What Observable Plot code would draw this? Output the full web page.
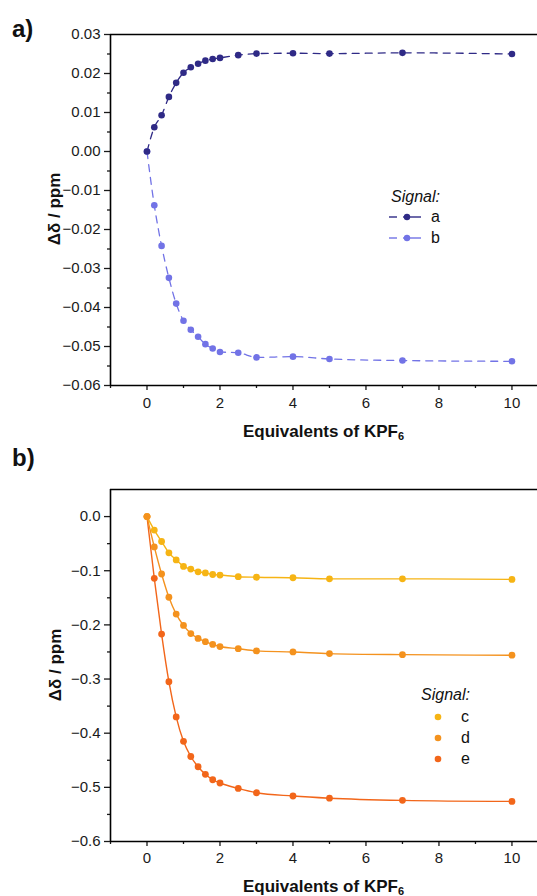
<!DOCTYPE html>
<html>
<head>
<meta charset="utf-8">
<script src="https://cdn.jsdelivr.net/npm/d3@7"></script>
<script src="https://cdn.jsdelivr.net/npm/@observablehq/plot@0.6"></script>
<style>
  html, body { margin: 0; padding: 0; background: #fff; }
  body { font-family: "Liberation Sans", Arial, sans-serif; color: #111; }
  #wrap { position: relative; width: 537px; height: 896px; overflow: hidden; }
  .panel { position: absolute; left: 0; }
  .plab { position: absolute; font-weight: bold; font-size: 24px; line-height: 1; }
  .xt { position: absolute; left: 110px; width: 427px; text-align: center; font-weight: bold; font-size: 17px; line-height: 1; }
  .xt sub { font-size: 11px; vertical-align: -3px; }
  .yt { position: absolute; width: 200px; text-align: center; font-weight: bold; font-size: 17px; line-height: 1; transform: translate(-50%, -50%) rotate(-90deg); }
  .leg { position: absolute; font-size: 16px; line-height: 1; color: #111; }
  .leg.ttl { font-style: italic; }
</style>
</head>
<body>
<div id="wrap"></div>
<script>
// ---------- data ----------
const equiv = [0, 0.2, 0.4, 0.6, 0.8, 1.0, 1.2, 1.4, 1.6, 1.8, 2.0, 2.5, 3, 4, 5, 7, 10];

// panel a (dashed)
const signalA = [0, 0.0062, 0.0093, 0.0140, 0.0176, 0.0202, 0.0216, 0.0225, 0.0233, 0.0237, 0.0240, 0.0247, 0.0251, 0.0252, 0.0251, 0.0253, 0.0250];
const signalB = [0, -0.0138, -0.0242, -0.0324, -0.0390, -0.0434, -0.0457, -0.0475, -0.0494, -0.0505, -0.0514, -0.0516, -0.0528, -0.0526, -0.0532, -0.0536, -0.0538];

// panel b (solid)
const signalC = [0, -0.025, -0.046, -0.067, -0.080, -0.092, -0.097, -0.102, -0.104, -0.107, -0.108, -0.111, -0.112, -0.113, -0.115, -0.115, -0.116];
const signalD = [0, -0.056, -0.106, -0.149, -0.180, -0.201, -0.216, -0.225, -0.231, -0.236, -0.240, -0.244, -0.248, -0.250, -0.253, -0.255, -0.256];
const signalE = [0, -0.114, -0.217, -0.305, -0.370, -0.415, -0.443, -0.462, -0.476, -0.486, -0.492, -0.502, -0.510, -0.516, -0.520, -0.524, -0.526];

const xMajorTicks = [0, 2, 4, 6, 8, 10];
const xMinorTicks = [-1, 1, 3, 5, 7, 9];
const yMajorTicksA = [-6, -5, -4, -3, -2, -1, 0, 1, 2, 3].map(k => k / 100);
const yMinorTicksA = [-11, -9, -7, -5, -3, -1, 1, 3, 5].map(k => k / 200);
const yMajorTicksB = [-6, -5, -4, -3, -2, -1, 0].map(k => k / 10);
const yMinorTicksB = [-11, -9, -7, -5, -3, -1].map(k => k / 20);

const labelsA = ["a", "b"];
const labelsB = ["c", "d", "e"];
const colors = { a: "#2f2a86", b: "#7273e6", c: "#f6b414", d: "#f4921e", e: "#f2661a" };

// ---------- helpers ----------
const FONT = "Liberation Sans, Arial, sans-serif";
const wrap = document.getElementById("wrap");
function rows(ys) { return equiv.map((x, i) => ({ x, y: ys[i] })); }
function frameMarks(xDom, yDom, yMaj, yMin, fmt, xPad) {
  return [
    Plot.axisX(xMajorTicks, { tickSize: 5, tickPadding: xPad, label: null, strokeWidth: 1.3, fontSize: 15 }),
    Plot.axisX(xMinorTicks, { tickSize: 3, tickFormat: () => "", label: null, strokeWidth: 1.3 }),
    Plot.axisY(yMaj, { tickSize: 6, tickPadding: 4, tickFormat: d3.format(fmt), label: null, strokeWidth: 1.3, fontSize: 15 }),
    Plot.axisY(yMin, { tickSize: 3, tickFormat: () => "", label: null, strokeWidth: 1.3 }),
    Plot.ruleY([yDom[0], yDom[1]], { stroke: "#000", strokeWidth: 1.6 }),
    Plot.ruleX([xDom[0]], { stroke: "#000", strokeWidth: 1.6 })
  ];
}
function place(el, top) { el.classList.add("panel"); el.style.top = top + "px"; wrap.appendChild(el); }
function addDiv(cls, html, css) { const d = document.createElement("div"); d.className = cls; d.innerHTML = html; Object.assign(d.style, css); wrap.appendChild(d); return d; }

// ---------- panel a ----------
const xDom = [-1, 10.7];
const yDomA = [-0.06, 0.03];
const panelA = Plot.plot({
  width: 537, height: 420,
  marginLeft: 110, marginRight: 0, marginTop: 34, marginBottom: 35,
  x: { domain: xDom }, y: { domain: yDomA },
  style: { fontFamily: FONT, fontSize: "15px", color: "#1a1a1a", background: "transparent", overflow: "visible" },
  marks: [
    ...frameMarks(xDom, yDomA, yMajorTicksA, yMinorTicksA, ".2f", 7),
    Plot.line(rows(signalB), { x: "x", y: "y", stroke: colors.b, strokeWidth: 1.3, strokeDasharray: "7,6", curve: "monotone-x" }),
    Plot.line(rows(signalA), { x: "x", y: "y", stroke: colors.a, strokeWidth: 1.3, strokeDasharray: "7,6", curve: "monotone-x" }),
    Plot.dot(rows(signalB), { x: "x", y: "y", r: 3.3, fill: colors.b }),
    Plot.dot(rows(signalA), { x: "x", y: "y", r: 3.3, fill: colors.a })
  ]
});
place(panelA, 0);

// ---------- panel b ----------
const yDomB = [-0.6, 0.05];
const panelB = Plot.plot({
  width: 537, height: 420,
  marginLeft: 110, marginRight: 0, marginTop: 34, marginBottom: 34,
  x: { domain: xDom }, y: { domain: yDomB },
  style: { fontFamily: FONT, fontSize: "15px", color: "#1a1a1a", background: "transparent", overflow: "visible" },
  marks: [
    ...frameMarks(xDom, yDomB, yMajorTicksB, yMinorTicksB, ".1f", 6),
    Plot.line(rows(signalE), { x: "x", y: "y", stroke: colors.e, strokeWidth: 1.4, curve: "monotone-x" }),
    Plot.line(rows(signalC), { x: "x", y: "y", stroke: colors.c, strokeWidth: 1.4, curve: "monotone-x" }),
    Plot.line(rows(signalD), { x: "x", y: "y", stroke: colors.d, strokeWidth: 1.4, curve: "monotone-x" }),
    Plot.dot(rows(signalE), { x: "x", y: "y", r: 3.4, fill: colors.e }),
    Plot.dot(rows(signalC), { x: "x", y: "y", r: 3.4, fill: colors.c }),
    Plot.dot(rows(signalD), { x: "x", y: "y", r: 3.4, fill: colors.d })
  ]
});
place(panelB, 455);

// ---------- text ----------
addDiv("plab", "a)", { left: "12px", top: "17px" });
addDiv("plab", "b)", { left: "12px", top: "446px" });
addDiv("xt", "Equivalents of KPF<sub>6</sub>", { top: "423px" });
addDiv("xt", "Equivalents of KPF<sub>6</sub>", { top: "878px" });
addDiv("yt", "Δδ / ppm", { left: "54px", top: "209px" });
addDiv("yt", "Δδ / ppm", { left: "55px", top: "665px" });

// legend a
addDiv("leg ttl", "Signal:", { left: "391px", top: "189px" });
labelsA.forEach((k, i) => {
  const y = 217 + i * 21;
  addDiv("leg", `<svg width="34" height="10" style="position:absolute;left:0;top:0"><line x1="0" x2="8" y1="5" y2="5" stroke="${colors[k]}" stroke-width="1.4"/><line x1="14" x2="32" y1="5" y2="5" stroke="${colors[k]}" stroke-width="1.4"/><circle cx="18" cy="5" r="3.2" fill="${colors[k]}"/></svg>`, { left: "389px", top: (y - 5) + "px", width: "34px", height: "10px" });
  addDiv("leg", k, { left: "431px", top: (y - 8) + "px" });
});

// legend b
addDiv("leg ttl", "Signal:", { left: "421px", top: "687px" });
labelsB.forEach((k, i) => {
  const y = 717 + i * 21;
  addDiv("leg", `<svg width="10" height="10" style="position:absolute;left:0;top:0"><circle cx="5" cy="5" r="3.3" fill="${colors[k]}"/></svg>`, { left: "433px", top: (y - 5) + "px", width: "10px", height: "10px" });
  addDiv("leg", k, { left: "461px", top: (y - 8) + "px" });
});
</script>
</body>
</html>
